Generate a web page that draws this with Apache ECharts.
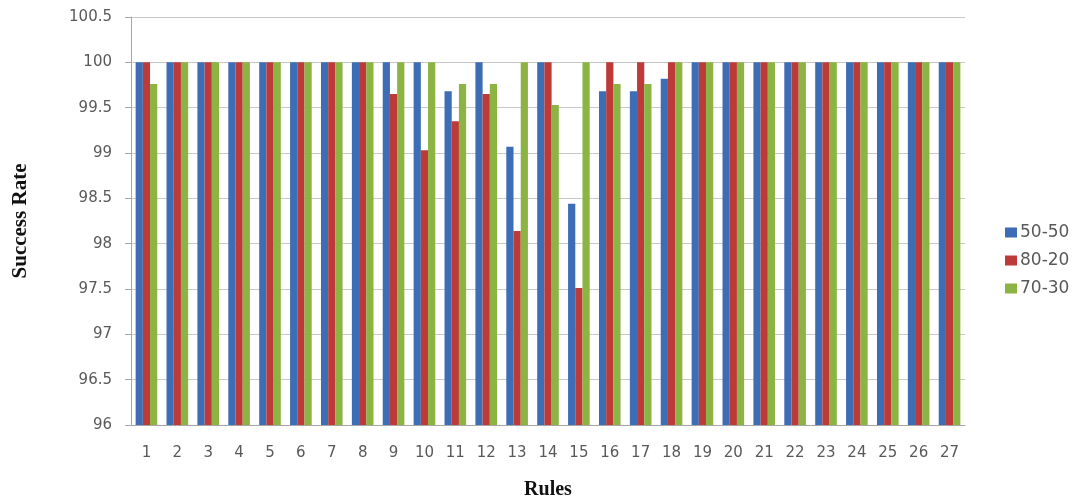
<!DOCTYPE html>
<html><head><meta charset="utf-8">
<script src="https://cdn.jsdelivr.net/npm/echarts@6/dist/echarts.min.js"></script>
<style>html,body{margin:0;padding:0;background:#fff}#c{width:1084px;height:504px}</style>
</head><body><div id="c"></div>
<script>
var categories = ['1','2','3','4','5','6','7','8','9','10','11','12','13','14','15','16','17','18','19','20','21','22','23','24','25','26','27'];
var s5050 = [100,100,100,100,100,100,100,100,100,100,99.68,100,99.07,100,98.44,99.68,99.68,99.82,100,100,100,100,100,100,100,100,100];
var s8020 = [100,100,100,100,100,100,100,100,99.65,99.03,99.35,99.65,98.14,100,97.51,100,100,100,100,100,100,100,100,100,100,100,100];
var s7030 = [99.76,100,100,100,100,100,100,100,100,100,99.76,99.76,100,99.53,100,99.76,99.76,100,100,100,100,100,100,100,100,100,100];
var seriesNames = ['50-50','80-20','70-30'];
var colors = ['#3D6DB5','#BC3B38','#8BB443'];

var chart = echarts.init(document.getElementById('c'));
var data = [s5050, s8020, s7030];
chart.setOption({
  animation: false,
  color: colors,
  grid: {left: 131, right: 119, top: 17, bottom: 79, containLabel: false, outerBoundsMode: 'none'},
  legend: {
    orient: 'vertical', left: 1000, top: 219, itemWidth: 12, itemHeight: 10, itemGap: 11,
    icon: 'rect',
    textStyle: {fontFamily: 'DejaVu Sans', fontSize: 17, color: '#595959', padding: [0,0,0,-2]},
    data: seriesNames
  },
  xAxis: {
    type: 'category', data: categories,
    name: 'Rules', nameLocation: 'middle', nameGap: 55,
    nameTextStyle: {fontFamily: 'Liberation Serif', fontWeight: 'bold', fontSize: 20, color: '#111'},
    axisLine: {lineStyle: {color: '#a6a6a6'}},
    axisTick: {show: false},
    axisLabel: {fontFamily: 'DejaVu Sans', fontSize: 15, color: '#595959', margin: 21}
  },
  yAxis: {
    type: 'value', min: 96, max: 100.5, interval: 0.5,
    name: 'Success Rate', nameLocation: 'middle', nameGap: 100,
    nameTextStyle: {fontFamily: 'Liberation Serif', fontWeight: 'bold', fontSize: 21, color: '#111'},
    axisLine: {show: true, lineStyle: {color: '#a6a6a6'}},
    axisTick: {show: true, length: 6, lineStyle: {color: '#a6a6a6'}},
    axisLabel: {fontFamily: 'DejaVu Sans', fontSize: 15, color: '#595959', margin: 19},
    splitLine: {lineStyle: {color: '#c8c8c8'}}
  },
  series: seriesNames.map(function(n, i){
    return {name: n, type: 'bar', data: data[i], barGap: '0%', barCategoryGap: '30%'};
  })
});
</script></body></html>
